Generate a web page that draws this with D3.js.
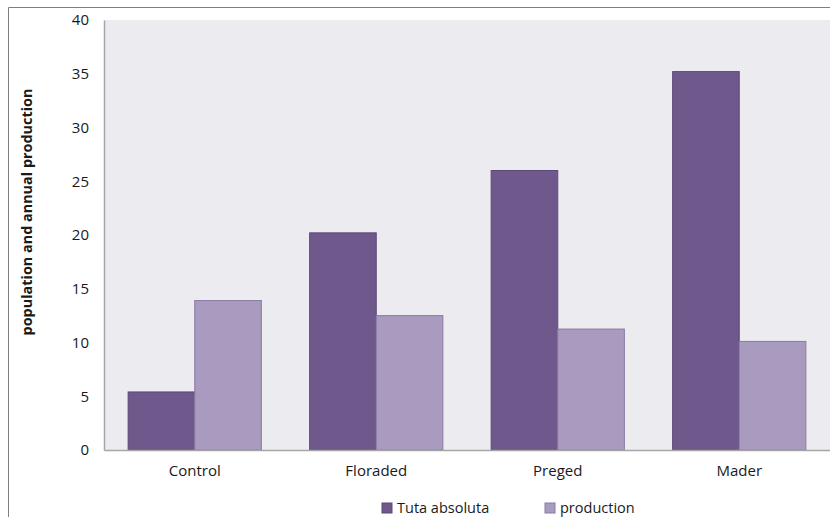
<!DOCTYPE html>
<html>
<head>
<meta charset="utf-8">
<script src="https://cdn.jsdelivr.net/npm/d3@7"></script>
<style>
  html, body { margin: 0; padding: 0; background: #ffffff; }
  svg { display: block; }
  text { font-family: "Open Sans", "Noto Sans", sans-serif; fill: #1a1a1a; }
</style>
</head>
<body>
<svg id="chart" width="830" height="517"></svg>
<script>
// Treatments along the x axis
const categories = ["Control", "Floraded", "Preged", "Mader"];
// Series
const seriesNames = ["Tuta absoluta", "production"];
const tutaAbsoluta = [5.4, 20.2, 26.0, 35.2];
const production = [13.9, 12.5, 11.25, 10.1];
const yTicks = [0, 5, 10, 15, 20, 25, 30, 35, 40];
const yTitle = "population and annual production";

const colors = ["#6f588c", "#a99abf"];
const strokes = ["#5d4878", "#8a7aa3"];

const svg = d3.select("#chart");
const W = 830, H = 517;
const plot = { left: 104, right: 830, top: 20, bottom: 450 };

// outer frame
svg.append("path")
  .attr("d", `M8.5,${H} V7.5 H${W}`)
  .attr("fill", "none").attr("stroke", "#7f7f7f").attr("stroke-width", 1);

// plot background
svg.append("rect")
  .attr("x", plot.left).attr("y", plot.top)
  .attr("width", plot.right - plot.left).attr("height", plot.bottom - plot.top)
  .attr("fill", "#ecebf0");

const x0 = d3.scaleBand().domain(categories)
  .range([plot.left, plot.right]).paddingInner(0.266).paddingOuter(0.133);
const x1 = d3.scaleBand().domain(seriesNames).range([0, x0.bandwidth()]);
const y = d3.scaleLinear().domain([0, 40]).range([plot.bottom, plot.top]);

const data = categories.map((c, i) => ({ cat: c, vals: [tutaAbsoluta[i], production[i]] }));

const groups = svg.append("g").selectAll("g").data(data).join("g")
  .attr("transform", d => `translate(${x0(d.cat)},0)`);

groups.selectAll("rect")
  .data(d => d.vals.map((v, k) => ({ k, v })))
  .join("rect")
  .attr("x", d => x1(seriesNames[d.k]))
  .attr("y", d => y(d.v))
  .attr("width", x1.bandwidth())
  .attr("height", d => y(0) - y(d.v))
  .attr("fill", d => colors[d.k])
  .attr("stroke", d => strokes[d.k])
  .attr("stroke-width", 1);

// axes
const yAxis = svg.append("g")
  .attr("transform", `translate(${plot.left},0)`)
  .call(d3.axisLeft(y).tickValues(yTicks).tickSize(0).tickPadding(15));
yAxis.select(".domain").attr("stroke", "#a6a6a6").attr("stroke-width", 1.5);
yAxis.selectAll("text").attr("font-size", 15).attr("fill", "#1a1a1a")
  .style("font-family", "'Open Sans', sans-serif");

const xAxis = svg.append("g")
  .attr("transform", `translate(0,${plot.bottom})`)
  .call(d3.axisBottom(x0).tickSize(0).tickPadding(15));
xAxis.select(".domain").attr("stroke", "#a6a6a6").attr("stroke-width", 1.5);
xAxis.selectAll("text").attr("font-size", 15).attr("fill", "#1a1a1a")
  .style("font-family", "'Open Sans', sans-serif");

// y title
svg.append("text")
  .attr("transform", `translate(26,212) rotate(-90)`)
  .attr("text-anchor", "middle")
  .attr("dominant-baseline", "central")
  .attr("font-size", 14.4).attr("font-weight", "bold")
  .text(yTitle);

// legend
const legendX = [382, 545];
const legend = svg.append("g").selectAll("g").data(seriesNames).join("g")
  .attr("transform", (d, i) => `translate(${legendX[i]},507)`);
legend.append("rect")
  .attr("x", 0).attr("y", -4).attr("width", 10).attr("height", 10)
  .attr("fill", (d, i) => colors[i]).attr("stroke", (d, i) => strokes[i]);
legend.append("text")
  .attr("x", 15).attr("y", 0).attr("dominant-baseline", "central")
  .attr("font-size", 14.5)
  .text(d => d);
</script>
</body>
</html>
